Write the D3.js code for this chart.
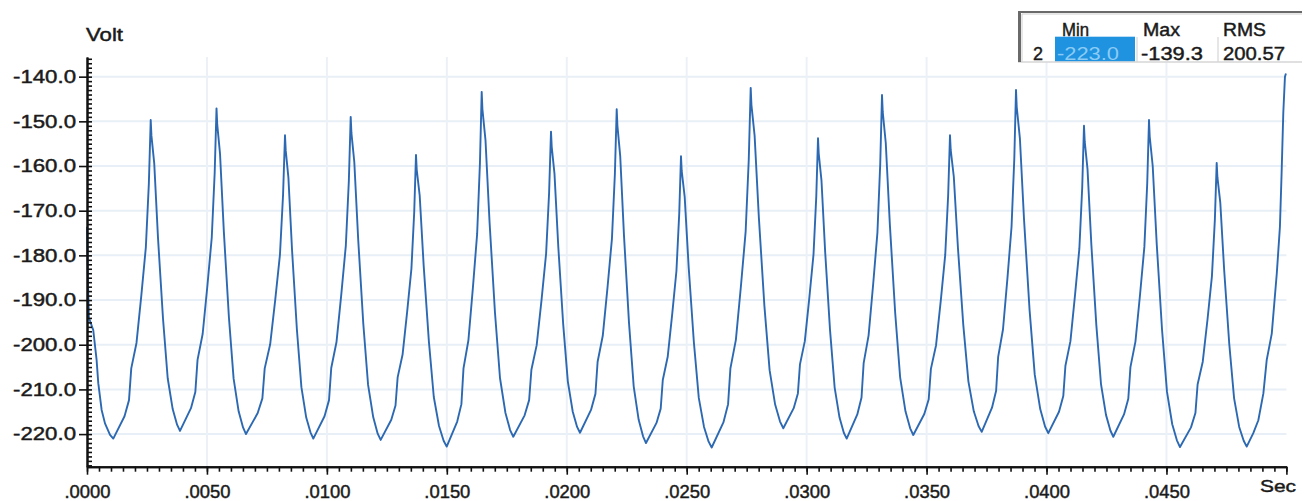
<!DOCTYPE html>
<html><head><meta charset="utf-8">
<script src="https://cdn.jsdelivr.net/npm/d3@7"></script>
<style>
html,body{margin:0;padding:0;background:#fff;}
svg{display:block;font-family:"Liberation Sans",Arial,sans-serif;}
</style>
</head><body>
<svg id="chart" width="1307" height="501"></svg>
<script>
// ---- data (time in milliseconds, voltage in volts) ----
const timeMs = [
 0,0.04,0.08,0.26,0.40,0.47,0.61,0.75,0.96,
 1.096,1.564,1.751,1.845,2.063,2.266,2.453,2.578,2.656,2.686,2.803,2.961,3.169,3.364,3.572,3.755,
 3.877,4.334,4.516,4.608,4.821,5.019,5.201,5.323,5.399,5.429,5.546,5.706,5.915,6.112,6.321,6.505,
 6.628,7.116,7.311,7.408,7.636,7.848,8.043,8.173,8.254,8.284,8.396,8.549,8.750,8.938,9.139,9.316,
 9.434,9.902,10.089,10.182,10.401,10.603,10.790,10.915,10.993,11.023,11.143,11.306,11.518,11.718,11.931,12.118,
 12.243,12.685,12.861,12.950,13.156,13.347,13.524,13.641,13.715,13.745,13.869,14.035,14.253,14.457,14.675,14.867,
 14.995,15.433,15.608,15.695,15.900,16.089,16.264,16.381,16.454,16.484,16.612,16.783,17.007,17.218,17.442,17.639,
 17.771,18.243,18.431,18.526,18.746,18.950,19.139,19.264,19.343,19.373,19.488,19.645,19.851,20.044,20.250,20.431,
 20.552,21.011,21.195,21.286,21.501,21.700,21.883,22.006,22.082,22.112,22.229,22.387,22.595,22.790,22.998,23.181,
 23.303,23.741,23.916,24.003,24.208,24.397,24.572,24.689,24.762,24.792,24.916,25.082,25.300,25.504,25.722,25.914,
 26.042,26.530,26.725,26.822,27.050,27.262,27.457,27.587,27.668,27.698,27.831,28.008,28.239,28.456,28.687,28.891,
 29.027,29.461,29.635,29.722,29.924,30.112,30.286,30.402,30.474,30.504,30.618,30.773,30.976,31.168,31.371,31.550,
 31.670,32.112,32.288,32.377,32.583,32.774,32.951,33.068,33.142,33.172,33.298,33.468,33.690,33.898,34.120,34.316,
 34.446,34.905,35.089,35.180,35.395,35.594,35.777,35.900,35.976,36.006,36.135,36.307,36.531,36.743,36.968,37.166,
 37.298,37.727,37.899,37.984,38.185,38.371,38.542,38.657,38.728,38.758,38.890,39.065,39.293,39.509,39.738,39.939,
 40.074,40.520,40.699,40.788,40.997,41.190,41.369,41.488,41.562,41.592,41.709,41.868,42.075,42.271,42.479,42.662,
 42.784,43.230,43.409,43.498,43.707,43.900,44.079,44.198,44.272,44.302,44.427,44.595,44.815,45.021,45.241,45.435,
 45.564,46.023,46.207,46.298,46.513,46.712,46.895,47.018,47.094,47.124,47.244,47.407,47.619,47.820,48.032,48.220,
 48.345,48.62,48.83,49.04,49.18,49.39,49.60,49.73,49.80,49.87,49.94,49.98
];
const voltage = [
 -173.6,-186.0,-194.0,-196.7,-203.4,-208.6,-214.6,-217.6,-220.2,
 -221.0,-216.0,-212.4,-205.3,-199.6,-188.9,-178.2,-164.0,-149.7,-153.2,-159.4,-176.2,-194.2,-207.5,-214.4,-217.9,
 -219.3,-214.2,-210.6,-203.4,-197.6,-186.8,-176.0,-161.5,-147.1,-150.7,-157.3,-174.8,-193.8,-207.6,-214.9,-218.5,
 -220.0,-215.3,-212.0,-205.3,-199.9,-189.9,-179.9,-166.5,-153.1,-156.5,-162.6,-178.9,-196.6,-209.5,-216.3,-219.6,
 -221.0,-216.0,-212.4,-205.2,-199.4,-188.6,-177.8,-163.4,-149.0,-152.6,-159.1,-176.5,-195.3,-209.0,-216.2,-219.9,
 -221.3,-216.8,-213.6,-207.3,-202.2,-192.6,-183.0,-170.3,-157.5,-160.8,-166.6,-182.3,-199.3,-211.7,-218.2,-221.5,
 -222.8,-217.2,-213.3,-205.3,-199.0,-187.1,-175.2,-159.3,-143.4,-147.3,-154.2,-172.7,-192.8,-207.5,-215.2,-219.1,
 -220.6,-215.8,-212.4,-205.6,-200.1,-189.9,-179.6,-166.0,-152.3,-155.7,-161.7,-177.9,-195.4,-208.2,-215.0,-218.4,
 -219.7,-214.6,-211.0,-203.8,-198.0,-187.1,-176.3,-161.8,-147.3,-151.0,-157.8,-175.7,-195.1,-209.3,-216.8,-220.5,
 -222.0,-217.5,-214.3,-207.9,-202.7,-193.1,-183.5,-170.6,-157.8,-161.1,-166.9,-182.6,-199.5,-211.9,-218.4,-221.7,
 -223.0,-217.4,-213.3,-205.3,-198.9,-186.8,-174.7,-158.6,-142.5,-146.3,-153.2,-171.5,-191.3,-205.7,-213.4,-217.2,
 -218.7,-214.2,-210.9,-204.4,-199.2,-189.5,-179.8,-166.8,-153.8,-157.2,-163.2,-179.3,-196.8,-209.6,-216.3,-219.7,
 -221.0,-215.6,-211.8,-204.1,-197.9,-186.4,-174.9,-159.5,-144.1,-147.9,-154.8,-173.0,-192.8,-207.3,-214.9,-218.7,
 -220.2,-215.5,-212.2,-205.4,-200.1,-190.0,-179.9,-166.5,-153.1,-156.4,-162.4,-178.3,-195.6,-208.2,-214.9,-218.2,
 -219.5,-214.1,-210.3,-202.7,-196.6,-185.1,-173.6,-158.3,-143.0,-146.8,-153.8,-172.2,-192.2,-206.7,-214.4,-218.3,
 -219.8,-215.0,-211.5,-204.7,-199.2,-188.8,-178.5,-164.8,-151.0,-154.5,-160.7,-177.5,-195.5,-208.8,-215.7,-219.2,
 -220.6,-215.6,-212.1,-205.0,-199.3,-188.7,-178.1,-163.9,-149.7,-153.4,-160.0,-177.5,-196.6,-210.5,-217.8,-221.4,
 -222.9,-218.5,-215.3,-208.9,-203.8,-194.3,-184.7,-172.0,-159.3,-162.5,-168.2,-183.4,-199.9,-212.0,-218.4,-221.5,
 -222.8,-219.8,-216.9,-210.9,-203.4,-197.5,-184.0,-173.6,-161.6,-148.2,-140.0,-139.3
];
const xMajorTicksMs = [0,5,10,15,20,25,30,35,40,45,50];
const yMajorTicks = [-220,-210,-200,-190,-180,-170,-160,-150,-140];
const yAxisTitle = "Volt";
const xAxisTitle = "Sec";
const statHeaders = ["Min","Max","RMS"];
const statChannel = "2";
const statValues = ["-223.0","-139.3","200.57"];

// ---- layout ----
const svg = d3.select("#chart");
const pL = 87, pR = 1286.4, pT = 57, pB = 466.7;
const x = d3.scaleLinear().domain([0, 50]).range([pL, pR]);
const y = d3.scaleLinear().domain([-227.3, -135.6]).range([pB, pT]);
const ink = "#1a1a1a";
const heavy = sel => sel.attr("stroke", ink).attr("stroke-width", 0.45);

// grid
const grid = svg.append("g");
grid.selectAll("line.h").data(yMajorTicks).join("line")
  .attr("x1", pL).attr("x2", pR)
  .attr("y1", d => y(d)).attr("y2", d => y(d))
  .attr("stroke", "#e9eff6").attr("stroke-width", 2);
grid.selectAll("line.v").data(xMajorTicksMs.filter(d => d > 0 && d < 50)).join("line")
  .attr("x1", d => x(d)).attr("x2", d => x(d))
  .attr("y1", pT).attr("y2", pB)
  .attr("stroke", "#ecf1f7").attr("stroke-width", 2);

// waveform
const pts = timeMs.map((t, i) => ({t, v: voltage[i]}));
svg.append("path").datum(pts)
  .attr("fill", "none").attr("stroke", "#2d69b2").attr("stroke-width", 1.9)
  .attr("stroke-linejoin", "round")
  .attr("d", d3.line().x(d => x(d.t)).y(d => y(d.v)));

// x axis: minor ticks
const minorX = d3.range(0, 50.001, 0.5);
svg.append("g").attr("transform", `translate(0,${pB})`)
  .call(d3.axisBottom(x).tickValues(minorX).tickSize(5).tickSizeOuter(0).tickFormat(""));
// x axis: major ticks + labels
const fmtX = d => d === 50 ? "" : d3.format(".4f")(d / 1000).replace(/^0/, "");
const gx = svg.append("g").attr("transform", `translate(0,${pB})`)
  .call(d3.axisBottom(x).tickValues(xMajorTicksMs).tickSize(8).tickSizeOuter(0).tickFormat(fmtX));
gx.selectAll("text").attr("y", 31).attr("dy", 0)
  .style("font-size", "18px").attr("fill", ink).call(heavy)
  .each(function(d){ if (d !== 50) d3.select(this).attr("textLength", 46).attr("lengthAdjust", "spacingAndGlyphs"); });

// y axis: minor ticks (inside)
const minorY = d3.range(-227, -135, 1);
svg.append("g").attr("transform", `translate(${pL},0)`)
  .call(d3.axisRight(y).tickValues(minorY).tickSize(5).tickSizeOuter(0).tickFormat(""));
// y axis: major ticks + labels
const gy = svg.append("g").attr("transform", `translate(${pL},0)`)
  .call(d3.axisLeft(y).tickValues(yMajorTicks).tickSize(8).tickPadding(3).tickSizeOuter(0).tickFormat(d => d.toFixed(1)));
gy.selectAll("text").style("font-size", "18px").attr("fill", ink).call(heavy)
  .attr("textLength", 63).attr("lengthAdjust", "spacingAndGlyphs");

svg.selectAll(".domain").attr("stroke", "#111").attr("stroke-width", 2);
svg.selectAll(".tick line").attr("stroke", "#111").attr("stroke-width", 1.6);

// axis titles
svg.append("text").attr("x", 86).attr("y", 41).text(yAxisTitle)
  .style("font-size", "18px").attr("fill", ink).call(heavy)
  .attr("textLength", 37).attr("lengthAdjust", "spacingAndGlyphs");
svg.append("text").attr("x", 1260).attr("y", 492).text(xAxisTitle)
  .style("font-size", "17px").attr("fill", ink).call(heavy)
  .attr("textLength", 36).attr("lengthAdjust", "spacingAndGlyphs");

// statistics box
const box = svg.append("g");
box.append("rect").attr("x", 1018).attr("y", 11).attr("width", 289).attr("height", 51).attr("fill", "#fff");
box.append("rect").attr("x", 1055).attr("y", 36.7).attr("width", 80).attr("height", 25).attr("fill", "#1f93e0");
box.append("line").attr("x1", 1018).attr("x2", 1302).attr("y1", 62).attr("y2", 62).attr("stroke", "#d6d6d6").attr("stroke-width", 1.5);
[1137, 1218].forEach(sx => box.append("line").attr("x1", sx).attr("x2", sx).attr("y1", 37).attr("y2", 62).attr("stroke", "#d6d6d6").attr("stroke-width", 1.2));
box.append("line").attr("x1", 1018).attr("x2", 1302).attr("y1", 12).attr("y2", 12).attr("stroke", "#6a6a6a").attr("stroke-width", 2);
box.append("line").attr("x1", 1019.5).attr("x2", 1019.5).attr("y1", 11).attr("y2", 62).attr("stroke", "#6a6a6a").attr("stroke-width", 3);
box.append("line").attr("x1", 1022).attr("x2", 1302).attr("y1", 14).attr("y2", 14).attr("stroke", "#cfcfcf").attr("stroke-width", 1);
box.append("line").attr("x1", 1022).attr("x2", 1022).attr("y1", 14).attr("y2", 62).attr("stroke", "#cfcfcf").attr("stroke-width", 1);

const headX = [1062, 1143, 1223], headW = [27, 37, 43];
statHeaders.forEach((h, i) => box.append("text").attr("x", headX[i]).attr("y", 36).text(h)
  .style("font-size", "18px").attr("fill", ink).call(heavy)
  .attr("textLength", headW[i]).attr("lengthAdjust", "spacingAndGlyphs"));
box.append("text").attr("x", 1033).attr("y", 59.5).text(statChannel)
  .style("font-size", "18px").attr("fill", ink).call(heavy);
const valX = [1057, 1141, 1223], valFill = ["#8ccbf4", ink, ink];
statValues.forEach((v, i) => box.append("text").attr("x", valX[i]).attr("y", 59.5).text(v)
  .style("font-size", "18px").attr("fill", valFill[i])
  .attr("stroke", i === 0 ? "none" : ink).attr("stroke-width", 0.45)
  .attr("textLength", 62).attr("lengthAdjust", "spacingAndGlyphs"));
</script>
</body></html>
